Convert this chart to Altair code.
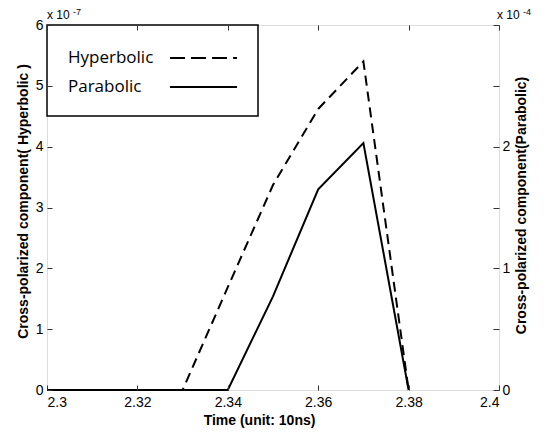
import altair as alt
import pandas as pd

# data (time in units of 10 ns)
time = [2.30, 2.31, 2.32, 2.33, 2.34, 2.35, 2.36, 2.37, 2.38]
hyperbolic = [0, 0, 0, 0, 1.69, 3.37, 4.62, 5.40, 0]      # x 1e-7
parabolic = [0, 0, 0, 0, 0, 0.77, 1.65, 2.03, 0]           # x 1e-4

x_ticks = [2.30, 2.32, 2.34, 2.36, 2.38, 2.40]
left_ticks = [0, 1, 2, 3, 4, 5, 6]
right_ticks = [0, 0.5, 1, 1.5, 2, 2.5, 3]

df = pd.DataFrame({"time": time, "hyp": hyperbolic, "par": parabolic})

W, H = 452, 365
AX_FONT = "Liberation Sans"

xscale = alt.Scale(domain=[2.3, 2.4], nice=False, zero=False)

hyp_line = alt.Chart(df).mark_line(color="black", strokeWidth=2, strokeDash=[10, 6]).encode(
    x=alt.X("time:Q", scale=xscale,
            axis=alt.Axis(orient="bottom", values=x_ticks, format="~g", offset=-5, tickSize=5,
                          ticks=True, tickWidth=1, domain=False, grid=False, labelPadding=5,
                          labelFontSize=14, labelFont=AX_FONT, labelColor="black",
                          tickColor="#333333",
                          title="Time (unit: 10ns)", titleFont=AX_FONT, titleFontSize=14,
                          titleFontWeight="bold", titleColor="black", titleX=212, titleY=28,
                          titleBaseline="top", titleAlign="center", zindex=1)),
    y=alt.Y("hyp:Q", scale=alt.Scale(domain=[0, 6], nice=False),
            axis=alt.Axis(orient="left", values=left_ticks, offset=-5, tickSize=5, ticks=True,
                          tickWidth=1, domain=False, grid=False, labelPadding=4,
                          labelFontSize=14, labelFont=AX_FONT, labelColor="black",
                          tickColor="#333333",
                          title="Cross-polarized component( Hyperbolic )", titleFont=AX_FONT,
                          titleFontSize=14, titleFontWeight="bold", titleColor="black",
                          titleAngle=270, titleX=-29, titleY=176, titleAlign="center",
                          titleBaseline="middle", zindex=1)),
)

par_line = alt.Chart(df).mark_line(color="black", strokeWidth=2).encode(
    x=alt.X("time:Q", scale=xscale,
            axis=alt.Axis(orient="top", values=x_ticks, offset=-5, tickSize=5, ticks=True,
                          tickWidth=1, domain=False, grid=False, labels=False,
                          tickColor="#333333", title=None, zindex=1)),
    y=alt.Y("par:Q", scale=alt.Scale(domain=[0, 3], nice=False),
            axis=alt.Axis(orient="right", values=right_ticks, format="~g", offset=-6,
                          tickSize=6, ticks=True, tickWidth=1, domain=False, grid=False,
                          labelPadding=3, labelFontSize=14, labelFont=AX_FONT,
                          labelColor="black", tickColor="#333333",
                          labelExpr="(datum.value == 0 || datum.value == 1 || datum.value == 2) ? datum.label : ''",
                          title="Cross-polarized component(Parabolic)", titleFont=AX_FONT,
                          titleFontSize=14, titleFontWeight="bold", titleColor="black",
                          titleAngle=270, titleX=28, titleY=180, titleAlign="center",
                          titleBaseline="middle", zindex=1)),
)

one = pd.DataFrame({"k": [0]})

legend_box = alt.Chart(one).mark_rect(fill="white", stroke="black", strokeWidth=1.5).encode(
    x=alt.value(0), x2=alt.value(211), y=alt.value(0), y2=alt.value(91))

leg_font = "Open Sans"
leg_t1 = alt.Chart(one).mark_text(text="Hyperbolic", align="left", baseline="middle",
                                  font=leg_font, fontSize=17, color="black").encode(
    x=alt.value(21), y=alt.value(33))
leg_t2 = alt.Chart(one).mark_text(text="Parabolic", align="left", baseline="middle",
                                  font=leg_font, fontSize=17, color="black").encode(
    x=alt.value(21), y=alt.value(62))
leg_l1 = alt.Chart(one).mark_rule(color="black", strokeWidth=2, strokeDash=[15, 6]).encode(
    x=alt.value(123), x2=alt.value(190), y=alt.value(33))
leg_l2 = alt.Chart(one).mark_rule(color="black", strokeWidth=2).encode(
    x=alt.value(123), x2=alt.value(190), y=alt.value(62))

def exp_label(x0, base_txt, sup_txt):
    a = alt.Chart(one).mark_text(text=base_txt, align="left", baseline="middle",
                                 font=AX_FONT, fontSize=12, color="black").encode(
        x=alt.value(x0), y=alt.value(-10))
    b = alt.Chart(one).mark_text(text=sup_txt, align="left", baseline="middle",
                                 font=AX_FONT, fontSize=9, color="black").encode(
        x=alt.value(x0 + 26), y=alt.value(-13))
    return a + b

exp_left = exp_label(0, "x 10", "-7")
exp_right = exp_label(450, "x 10", "-4")

chart = alt.layer(
    hyp_line, par_line, legend_box, leg_t1, leg_t2, leg_l1, leg_l2, exp_left, exp_right
).resolve_scale(y="independent").resolve_axis(x="independent", y="independent").properties(
    width=W, height=H,
    autosize=alt.AutoSizeParams(type="none"),
    padding={"left": 39, "top": 17, "right": 41, "bottom": 39},
).configure_view(stroke="black", strokeWidth=1.5).configure(background="white")

chart.save("out.html", embed_options={"renderer": "svg", "actions": False})
